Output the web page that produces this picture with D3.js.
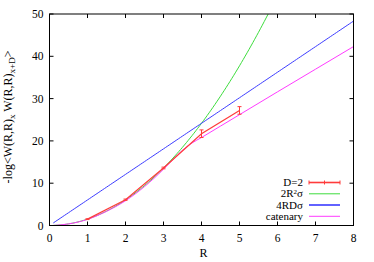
<!DOCTYPE html>
<html><head><meta charset="utf-8">
<script src="https://cdn.jsdelivr.net/npm/d3@7"></script>
<style>body{margin:0;background:#fff}svg{display:block}</style>
</head><body><div id="c"></div>
<script>
const xTicks=[0,1,2,3,4,5,6,7,8];
const yTicks=[0,10,20,30,40,50];
const dataR=[1,2,3,4,5];
const dataV=[1.5,6.1,13.6,21.7,27.2];
const dataErr=[0.1,0.15,0.2,0.9,0.9];
const sigma=0.755;
const Dsep=2;
const catR=[0.1,0.5,1,1.5,2,2.5,3,3.25,3.5,3.75,4,4.5,5,6,7,8];
const catV=[0.01,0.37,1.45,3.35,5.85,9.2,13.3,15.6,17.8,19.5,20.8,23.5,26.2,31.6,36.95,42.3];
const lineR=d3.range(0.1,8.0001,0.05);
const legendLabels=["D=2","2R²σ","4RDσ","catenary"];
const colors={data:"#ff3b3b",quad:"#3ddc3d",lin:"#3b3bff",cat:"#ff3bff"};
const FONT="'Liberation Serif','Times New Roman','DejaVu Serif',serif";

const W=374,H=262,L=49.5,R=353.5,T=14,B=225.5;
const svg=d3.select("#c").append("svg").attr("width",W).attr("height",H).attr("font-family",FONT);
const x=d3.scaleLinear().domain([0,8]).range([L,R]);
const y=d3.scaleLinear().domain([0,50]).range([B,T]);
svg.append("clipPath").attr("id","cp").append("rect").attr("x",L).attr("y",T).attr("width",R-L).attr("height",B-T);
const g=svg.append("g").attr("clip-path","url(#cp)");
const line=d3.line().x(d=>x(d[0])).y(d=>y(d[1]));

g.append("path").datum(lineR.map(r=>[r,2*r*r*sigma])).attr("d",line).attr("fill","none").attr("stroke",colors.quad).attr("stroke-width",1);
g.append("path").datum(lineR.map(r=>[r,4*r*Dsep*sigma])).attr("d",line).attr("fill","none").attr("stroke",colors.lin).attr("stroke-width",1);
const catLine=d3.line().x(d=>x(d[0])).y(d=>y(d[1])).curve(d3.curveMonotoneX);
g.append("path").datum(catR.map((r,i)=>[r,catV[i]])).attr("d",catLine).attr("fill","none").attr("stroke",colors.cat).attr("stroke-width",1);
g.append("path").datum(dataR.map((r,i)=>[r,dataV[i]])).attr("d",line).attr("fill","none").attr("stroke",colors.data).attr("stroke-width",1.2);
dataR.forEach((r,i)=>{
  const xx=x(r),y1=y(dataV[i]-dataErr[i]),y2=y(dataV[i]+dataErr[i]);
  g.append("line").attr("x1",xx).attr("x2",xx).attr("y1",y1).attr("y2",y2).attr("stroke",colors.data);
  [y1,y2].forEach(yy=>g.append("line").attr("x1",xx-2).attr("x2",xx+2).attr("y1",yy).attr("y2",yy).attr("stroke",colors.data));
});

svg.append("rect").attr("x",L).attr("y",T).attr("width",R-L).attr("height",B-T).attr("fill","none").attr("stroke","#000").attr("stroke-width",1);
xTicks.forEach(t=>{
  svg.append("line").attr("x1",x(t)).attr("x2",x(t)).attr("y1",B).attr("y2",B-4).attr("stroke","#000");
  svg.append("line").attr("x1",x(t)).attr("x2",x(t)).attr("y1",T).attr("y2",T+4).attr("stroke","#000");
  svg.append("text").attr("x",x(t)).attr("y",242).attr("text-anchor","middle").attr("font-size",11.5).text(t);
});
yTicks.forEach(t=>{
  svg.append("line").attr("x1",L).attr("x2",L+4).attr("y1",y(t)).attr("y2",y(t)).attr("stroke","#000");
  svg.append("line").attr("x1",R).attr("x2",R-4).attr("y1",y(t)).attr("y2",y(t)).attr("stroke","#000");
  svg.append("text").attr("x",L-6).attr("y",y(t)+4).attr("text-anchor","end").attr("font-size",11.5).text(t);
});
svg.append("text").attr("x",(L+R)/2+2).attr("y",257).attr("text-anchor","middle").attr("font-size",12).text("R");
const yl=svg.append("text").attr("transform","translate(12,117) rotate(-90)").attr("text-anchor","middle").attr("font-size",12);
yl.append("tspan").text("-log<W(R,R)");
yl.append("tspan").attr("font-size",9).attr("dy",3).text("x");
yl.append("tspan").attr("dy",-3).text(" W(R,R)");
yl.append("tspan").attr("font-size",9).attr("dy",3).text("x+D");
yl.append("tspan").attr("dy",-3).text(">");

const ly=[182.5,193.8,205,216.3];
const lc=[colors.data,colors.quad,colors.lin,colors.cat];
const lx1=309,lx2=340;
ly.forEach((yy,i)=>{
  svg.append("line").attr("x1",lx1).attr("x2",lx2).attr("y1",yy).attr("y2",yy).attr("stroke",lc[i]).attr("stroke-width",i===0||i===2?1.6:1);
  const t=svg.append("text").attr("x",303).attr("y",yy+3.5).attr("text-anchor","end").attr("font-size",11);
  if(i===1){t.append("tspan").text("2R");t.append("tspan").attr("font-size",7).attr("dy",-3).text("2");t.append("tspan").attr("dy",3).text("σ");}
  else t.text(legendLabels[i]);
});
[lx1,(lx1+lx2)/2,lx2].forEach(xx=>svg.append("line").attr("x1",xx).attr("x2",xx).attr("y1",ly[0]-2).attr("y2",ly[0]+2).attr("stroke",colors.data));
</script></body></html>
